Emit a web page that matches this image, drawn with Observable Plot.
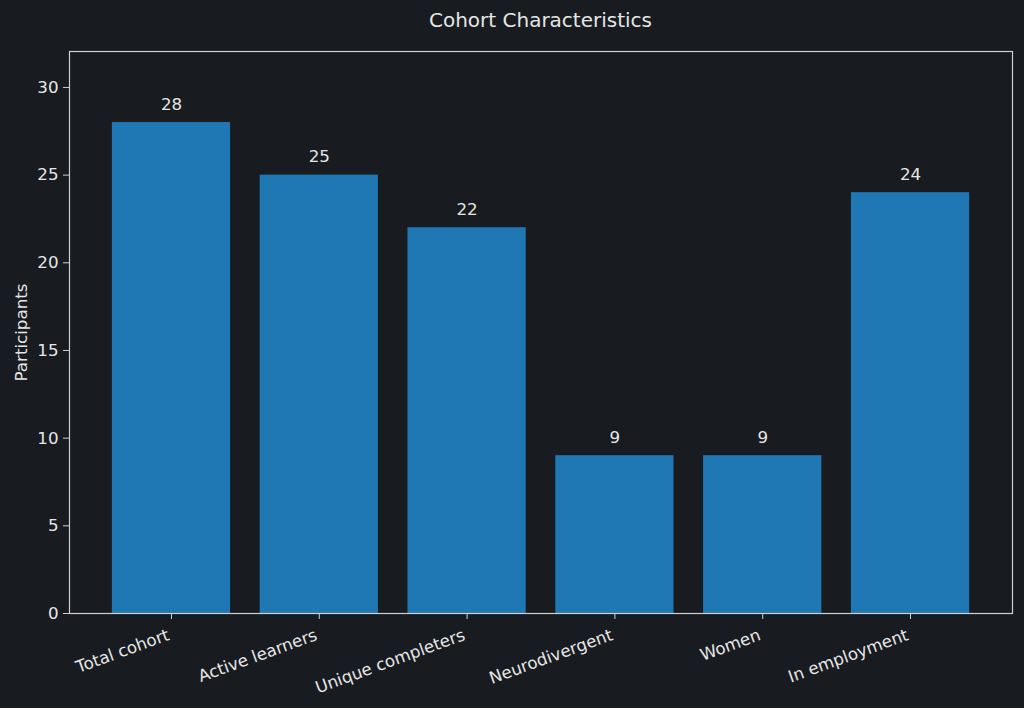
<!DOCTYPE html>
<html>
<head>
<meta charset="utf-8">
<script src="https://cdn.jsdelivr.net/npm/d3@7"></script>
<script src="https://cdn.jsdelivr.net/npm/@observablehq/plot@0.6"></script>
<style>
  html, body { margin: 0; padding: 0; background: #181c20; }
  body { width: 1024px; height: 708px; overflow: hidden; font-family: "DejaVu Sans", sans-serif; }
  #title { height: 40px; line-height: 40px; text-align: center; color: #e6e6e6; font-size: 20px; padding-left: 69px; padding-right: 12px; }
  svg { display: block; }
</style>
</head>
<body>
<div id="title">Cohort Characteristics</div>
<div id="chart"></div>
<script>
const categories = ["Total cohort", "Active learners", "Unique completers", "Neurodivergent", "Women", "In employment"];
const values = [28, 25, 22, 9, 9, 24];
const yTicks = [0, 5, 10, 15, 20, 25, 30];
const yLabel = "Participants";

const data = categories.map((c, i) => ({category: c, value: values[i]}));
const textColor = "#e6e6e6";
const fs = 16.7;

const chart = Plot.plot({
  width: 1024,
  height: 668,
  marginTop: 11,
  marginBottom: 95,
  marginLeft: 69,
  marginRight: 12,
  style: {background: "#181c20", color: textColor, fontFamily: "DejaVu Sans, sans-serif", fontSize: fs + "px"},
  x: {type: "band", domain: categories, paddingInner: 0.2, paddingOuter: 0.29, round: false},
  y: {domain: [0, 32.05]},
  marks: [
    Plot.barY(data, {x: "category", y: "value", fill: "#1f77b4"}),
    Plot.frame({stroke: "#cfcfcf", strokeWidth: 1.2}),
    Plot.axisY({ticks: yTicks, tickSize: 6, tickPadding: 5, label: null, fontSize: fs, stroke: "#cfcfcf", fill: textColor}),
    Plot.axisX({tickSize: 6, tickFormat: () => "", label: null, stroke: "#cfcfcf"}),
    Plot.text(categories, {x: d => d, frameAnchor: "bottom", dy: 26, dx: -1, rotate: -20, textAnchor: "end", lineAnchor: "bottom", fontSize: fs, fill: textColor}),
    Plot.text(data, {x: "category", y: "value", text: d => String(d.value), dy: -13, lineAnchor: "bottom", fontSize: fs, fill: textColor}),
    Plot.text([yLabel], {frameAnchor: "left", dx: -48, rotate: -90, textAnchor: "middle", fontSize: fs, fill: textColor})
  ]
});
document.getElementById("chart").appendChild(chart);
</script>
</body>
</html>
